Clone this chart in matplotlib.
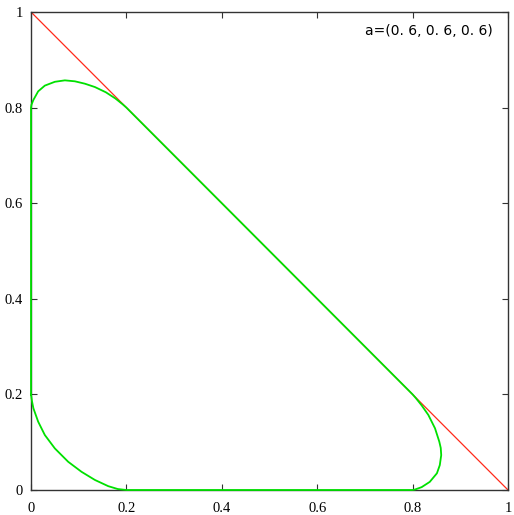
import numpy as np
import matplotlib.pyplot as plt

# ---------- data ----------
A_VALS = [0.6, 0.6, 0.6]

# red reference line x + y = 1
red_x = [0.0, 1.0]
red_y = [1.0, 0.0]

# green boundary, traced in order as one closed path
# lower-left arc (0,0.2) -> (0.2,0)
arc_x = [0.0, 0.002, 0.005, 0.015, 0.029, 0.05, 0.078, 0.106, 0.134, 0.162, 0.182, 0.2]
arc_y = [0.2, 0.186, 0.171, 0.143, 0.115, 0.087, 0.059, 0.038, 0.021, 0.008, 0.002, 0.0]
# right loop (0.8,0) -> (0.8,0.2)
rloop_x = [0.8, 0.805, 0.819, 0.836, 0.851, 0.857, 0.860, 0.859, 0.856, 0.847, 0.833, 0.819, 0.807, 0.8]
rloop_y = [0.0, 0.001, 0.006, 0.017, 0.035, 0.052, 0.073, 0.088, 0.101, 0.129, 0.157, 0.177, 0.192, 0.2]
# top loop (0.2,0.8) -> (0,0.8)
tloop_x = [0.2, 0.192, 0.177, 0.157, 0.134, 0.113, 0.092, 0.071, 0.05, 0.029, 0.015, 0.005, 0.001, 0.0]
tloop_y = [0.8, 0.807, 0.819, 0.832, 0.843, 0.850, 0.855, 0.857, 0.854, 0.846, 0.834, 0.816, 0.806, 0.8]

XTICKS = [0, 0.2, 0.4, 0.6, 0.8, 1]
YTICKS = [0, 0.2, 0.4, 0.6, 0.8, 1]
TICK_LABELS = ["0", "0.2", "0.4", "0.6", "0.8", "1"]
# -------------------------------------------------

green_x = arc_x + rloop_x + tloop_x + [arc_x[0]]
green_y = arc_y + rloop_y + tloop_y + [arc_y[0]]

fig = plt.figure(figsize=(5.14, 5.15), dpi=100)
ax = fig.add_axes([31/514, 25/515, 477/514, 478/515])

ax.plot(red_x, red_y, color="#ff2a1a", lw=0.9, zorder=2)
ax.plot(green_x, green_y, color="#00e000", lw=1.3, zorder=3, clip_on=False,
        solid_joinstyle="round")

ax.set_xlim(0, 1)
ax.set_ylim(0, 1)
ax.set_xticks(XTICKS)
ax.set_yticks(YTICKS)
ax.set_xticklabels(TICK_LABELS, family="Liberation Serif", fontsize=10.5)
ax.set_yticklabels(TICK_LABELS, family="Liberation Serif", fontsize=10.5)
ax.tick_params(direction="in", length=4.5, width=0.8, top=True, right=True, color="#333333")
ax.tick_params(axis="x", pad=9)
ax.tick_params(axis="y", pad=6)
for s in ax.spines.values():
    s.set_color("#333333")
    s.set_linewidth(1.0)

label = "a=(" + ", ".join(f"{v:.1f}".replace(".", ". ") for v in A_VALS) + ")"
ax.text(0.70, 0.96, label, transform=ax.transAxes, fontsize=10,
        family="DejaVu Sans", va="center", ha="left")

fig.savefig("out.png", dpi=100)
